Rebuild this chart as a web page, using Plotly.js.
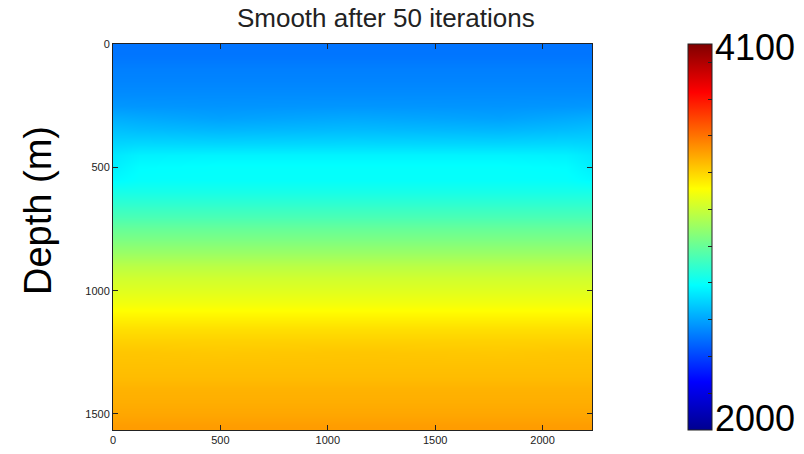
<!DOCTYPE html>
<html>
<head>
<meta charset="utf-8">
<script src="https://cdn.plot.ly/plotly-3.0.1.min.js"></script>
<style>html,body{margin:0;padding:0;background:#fff;}#chart{width:804px;height:454px;}</style>
</head>
<body>
<div id="chart"></div>
<script>
// Lateral positions (m) of the sampled columns
var distance = [0, 120, 500, 1120, 1800, 2110, 2230];
// Depth samples (m)
var depth = [0, 50, 100, 150, 200, 250, 300, 350, 400, 450, 500, 550, 600, 650, 700, 750, 800,
             850, 900, 950, 1000, 1050, 1100, 1150, 1200, 1250, 1300, 1350, 1400, 1450, 1500, 1550, 1600];
// Velocity (m/s), one row per depth sample
var velocity = [
  [2500, 2500, 2500, 2500, 2500, 2500, 2500],
  [2505, 2505, 2505, 2505, 2505, 2505, 2505],
  [2525, 2525, 2525, 2525, 2525, 2525, 2525],
  [2535, 2535, 2535, 2535, 2535, 2535, 2535],
  [2550, 2550, 2550, 2550, 2550, 2550, 2550],
  [2575, 2572, 2568, 2572, 2568, 2572, 2575],
  [2620, 2612, 2595, 2610, 2595, 2612, 2620],
  [2660, 2652, 2640, 2650, 2640, 2652, 2660],
  [2700, 2705, 2700, 2705, 2700, 2705, 2700],
  [2740, 2760, 2765, 2765, 2765, 2760, 2740],
  [2755, 2785, 2792, 2792, 2792, 2785, 2755],
  [2780, 2795, 2797, 2797, 2797, 2795, 2780],
  [2835, 2835, 2835, 2835, 2835, 2835, 2835],
  [2885, 2885, 2885, 2885, 2885, 2885, 2885],
  [2940, 2940, 2940, 2940, 2940, 2940, 2940],
  [3000, 3000, 3000, 3000, 3000, 3000, 3000],
  [3050, 3050, 3050, 3050, 3050, 3050, 3050],
  [3110, 3110, 3110, 3110, 3110, 3110, 3110],
  [3170, 3170, 3170, 3170, 3170, 3170, 3170],
  [3215, 3215, 3215, 3215, 3215, 3215, 3215],
  [3250, 3250, 3250, 3250, 3250, 3250, 3250],
  [3285, 3285, 3285, 3285, 3285, 3285, 3285],
  [3330, 3330, 3330, 3330, 3330, 3330, 3330],
  [3375, 3375, 3375, 3375, 3375, 3375, 3375],
  [3405, 3405, 3405, 3405, 3405, 3405, 3405],
  [3430, 3430, 3425, 3430, 3425, 3430, 3430],
  [3440, 3440, 3440, 3440, 3440, 3440, 3440],
  [3450, 3450, 3450, 3450, 3450, 3450, 3450],
  [3470, 3470, 3470, 3470, 3470, 3470, 3470],
  [3480, 3480, 3480, 3480, 3480, 3480, 3480],
  [3495, 3495, 3495, 3495, 3495, 3495, 3495],
  [3515, 3515, 3515, 3515, 3515, 3515, 3515],
  [3520, 3520, 3520, 3520, 3520, 3520, 3520]
];
var xTicks = [0, 500, 1000, 1500, 2000];
var yTicks = [0, 500, 1000, 1500];
var cbTicks = [2200, 2400, 2600, 2800, 3000, 3200, 3400, 3600, 3800, 4000];
var cbMin = 2000, cbMax = 4100;
var titleText = 'Smooth after 50 iterations';
var yTitleText = 'Depth (m)';

var jet = [
  [0, 'rgb(0,0,143)'], [0.125, 'rgb(0,0,255)'], [0.375, 'rgb(0,255,255)'],
  [0.625, 'rgb(255,255,0)'], [0.875, 'rgb(255,0,0)'], [1, 'rgb(128,0,0)']
];

var trace = {
  type: 'heatmap',
  x: distance, y: depth, z: velocity,
  zmin: cbMin, zmax: cbMax, zsmooth: 'best',
  colorscale: jet, hoverinfo: 'skip',
  colorbar: {
    x: 1.2004, xanchor: 'left', xpad: 0,
    y: 0.5, yanchor: 'middle', ypad: 0,
    len: 1, lenmode: 'fraction',
    thickness: 24, thicknessmode: 'pixels',
    outlinewidth: 1, outlinecolor: '#222',
    tickvals: cbTicks, showticklabels: false,
    ticks: 'inside', ticklen: 4, tickcolor: '#222', tickwidth: 1
  }
};

var axFont = {family: 'Liberation Sans, Arial, sans-serif', size: 11, color: '#222'};
var layout = {
  width: 804, height: 454,
  margin: {l: 113, r: 212, t: 44, b: 24, pad: 0},
  paper_bgcolor: '#fff', plot_bgcolor: '#fff',
  title: {
    text: titleText, x: 0.5695, xref: 'paper', xanchor: 'center',
    y: 0.96, yref: 'container', yanchor: 'middle',
    font: {family: 'Liberation Sans, Arial, sans-serif', size: 26, color: '#222'}
  },
  xaxis: {
    range: [0, 2230], tickvals: xTicks, ticks: 'inside', ticklen: 5, tickcolor: '#222',
    showline: true, linecolor: '#222', linewidth: 1, mirror: 'ticks',
    showgrid: false, zeroline: false, tickfont: axFont
  },
  yaxis: {
    range: [1565, 0], tickvals: yTicks, ticks: 'inside', ticklen: 5, tickcolor: '#222',
    showline: true, linecolor: '#222', linewidth: 1, mirror: 'ticks',
    showgrid: false, zeroline: false, tickfont: axFont
  },
  annotations: [
    {text: yTitleText, xref: 'paper', yref: 'paper', x: -0.1566, y: 0.57,
     xanchor: 'center', yanchor: 'middle', textangle: -90, showarrow: false,
     font: {family: 'Liberation Sans, Arial, sans-serif', size: 38, color: '#000'}},
    {text: String(cbMax), xref: 'paper', yref: 'paper', x: 1.2526, y: 0.99,
     xanchor: 'left', yanchor: 'middle', showarrow: false,
     font: {family: 'Liberation Sans, Arial, sans-serif', size: 36, color: '#000'}},
    {text: String(cbMin), xref: 'paper', yref: 'paper', x: 1.2526, y: 0.03,
     xanchor: 'left', yanchor: 'middle', showarrow: false,
     font: {family: 'Liberation Sans, Arial, sans-serif', size: 36, color: '#000'}}
  ]
};

Plotly.newPlot('chart', [trace], layout, {staticPlot: true, displayModeBar: false});
</script>
</body>
</html>
